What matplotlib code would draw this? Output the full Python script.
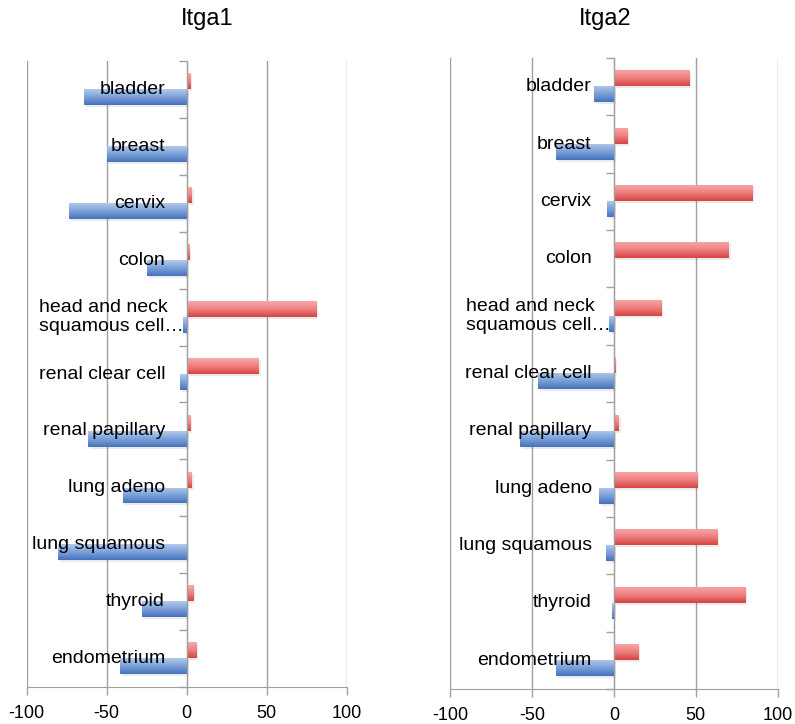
import numpy as np
import matplotlib
matplotlib.use("Agg")
import matplotlib.pyplot as plt
import matplotlib.transforms as mtransforms
from matplotlib.colors import LinearSegmentedColormap

plt.rcParams['font.family'] = ['Liberation Sans', 'DejaVu Sans']

# Data
categories = ["bladder", "breast", "cervix", "colon", "head and neck\nsquamous cell\u2026",
              "renal clear cell", "renal papillary", "lung adeno", "lung squamous",
              "thyroid", "endometrium"]
itga1_up = [2, 0, 3, 1.5, 81, 45, 2, 3, 0, 4, 6]
itga1_down = [-64.5, -50, -73.5, -25, -2.5, -4, -62, -40, -80.5, -28, -42]
itga2_up = [46, 8, 84.5, 70, 29, 1, 3, 51, 63, 80, 15]
itga2_down = [-12, -35, -4, 0, -3, -46, -57, -9, -5, -1, -35]
xticks = [-100, -50, 0, 50, 100]
titles = ["Itga1", "Itga2"]

red_cmap = LinearSegmentedColormap.from_list("r", ["#f8a8a8", "#ef8080", "#d64444"])
blue_cmap = LinearSegmentedColormap.from_list("b", ["#b2c9ec", "#7ba1d9", "#4672bd"])
grad = np.linspace(0, 1, 64).reshape(-1, 1)


def gradient_bars(ax, bars, cmap):
    for b in bars:
        x0, y0 = b.get_x(), b.get_y()
        w, h = b.get_width(), b.get_height()
        if w == 0:
            continue
        im = ax.imshow(grad, cmap=cmap, aspect='auto', origin='upper',
                       extent=(x0, x0 + w, y0 + h, y0), zorder=2)
        im.set_clip_path(b)


def panel(ax, up, down, title, label_x, wrap_x, title_x):
    y = np.arange(len(categories))
    h = 0.28
    # soft drop shadow
    shadow = mtransforms.offset_copy(ax.transData, fig=ax.figure, x=2, y=-2, units='dots')
    for vals, off in ((up, -0.145), (down, 0.135)):
        ax.barh(y + off, vals, height=h, color='black', alpha=0.08,
                edgecolor='none', zorder=1.5, transform=shadow)
    rb = ax.barh(y - 0.145, up, height=h, color='none', edgecolor='none', zorder=2)
    bb = ax.barh(y + 0.135, down, height=h, color='none', edgecolor='none', zorder=2)
    gradient_bars(ax, rb, red_cmap)
    gradient_bars(ax, bb, blue_cmap)

    ax.set_xlim(-100, 100)
    ax.set_ylim(len(categories) - 0.5, -0.5)
    ax.set_xticks(xticks)
    ax.set_xticklabels([str(t) for t in xticks], fontsize=13)
    ax.tick_params(axis='x', length=6, width=1, color='#a0a0a0', pad=7)
    ax.grid(axis='x', color='#a0a0a0', linewidth=1, zorder=0)
    ax.set_axisbelow(True)

    ax.spines['top'].set_visible(False)
    ax.spines['right'].set_visible(False)
    ax.spines['left'].set_position(('data', 0))
    ax.spines['left'].set_color('#a0a0a0')
    ax.spines['left'].set_zorder(3)
    ax.spines['bottom'].set_color('#a0a0a0')
    ax.set_yticks(np.arange(len(categories) + 1) - 0.5)
    ax.set_yticklabels([])
    ax.tick_params(axis='y', length=6, width=1, color='#a0a0a0', direction='out')

    for i, c in enumerate(categories):
        if "\n" in c:
            ax.text(wrap_x, i, c, ha='left', va='center', fontsize=14,
                    linespacing=1.2, color='black', zorder=5)
        else:
            ax.text(label_x, i, c, ha='right', va='center', fontsize=14,
                    color='black', zorder=5)

    ax.figure.text(title_x, 1 - 19 / 724, title, ha='center', va='center', fontsize=17)


fig = plt.figure(figsize=(7.95, 7.24), dpi=100)
ax1 = fig.add_axes([0.0336, 0.0511, 0.4025, 0.8646])
ax2 = fig.add_axes([0.566, 0.0483, 0.4123, 0.8716])

panel(ax1, itga1_up, itga1_down, titles[0], -13.5, -92.3, 207 / 795)
panel(ax2, itga2_up, itga2_down, titles[1], -13.5, -90.4, 605 / 795)

fig.savefig("out.png", dpi=100)
